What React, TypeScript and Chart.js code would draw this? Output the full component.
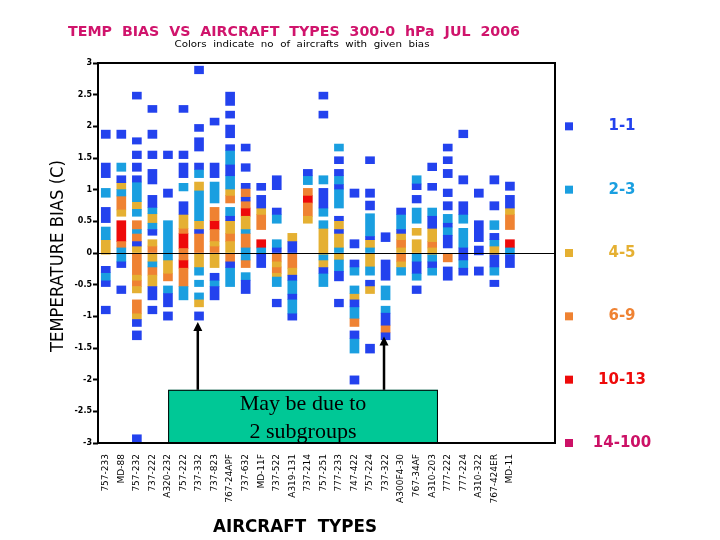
import React, { useEffect, useRef } from 'react';
import { Chart, registerables } from 'chart.js';

Chart.register(...registerables);

// ---------- DATA ----------
const aircraftTypes = [
  '757-233', 'MD-88', '757-232', '737-222', 'A320-232', '757-222', '737-332', '737-823',
  '767-24APF', '737-632', 'MD-11F', '737-522', 'A319-131', '737-214', '757-251', '777-233',
  '747-422', '757-224', '737-322', 'A300F4-30', '767-34AF', 'A310-203', '777-222', '777-224',
  'A310-322', '767-424ER', 'MD-11',
];

const yTickValues = [3, 2.5, 2, 1.5, 1, 0.5, 0, -0.5, -1, -1.5, -2, -2.5, -3];

const binLabels = ['1-1', '2-3', '4-5', '6-9', '10-13', '14-100'];
// y position (in bias units) at which each legend entry is shown
const binLegendAt = [2, 1, 0, -1, -2, -3];

// each entry: [aircraft index (1-based), lower edge of bias run, upper edge of bias run]
type Run = [number, number, number];

const count1to1: Run[] = [
  [1, 1.81, 1.94], [1, 1.19, 1.42], [1, 0.48, 0.72], [1, -0.31, -0.21], [1, -0.53, -0.44], [1, -0.96, -0.84],
  [2, 1.81, 1.94], [2, 1.11, 1.22], [2, -0.23, -0.14], [2, -0.64, -0.52],
  [3, 2.43, 2.54], [3, 1.72, 1.82], [3, 1.49, 1.61], [3, 1.29, 1.42], [3, 1.12, 1.22], [3, 0.11, 0.18], [3, -1.16, -1.05], [3, -1.37, -1.23], [3, -2.98, -2.87],
  [4, 2.22, 2.33], [4, 1.81, 1.94], [4, 1.49, 1.61], [4, 1.09, 1.32], [4, 0.72, 0.91], [4, 0.28, 0.37], [4, -0.74, -0.53], [4, -0.96, -0.84],
  [5, 1.49, 1.61], [5, 0.88, 1.01], [5, -0.85, -0.64], [5, -1.06, -0.93],
  [6, 2.22, 2.33], [6, 1.49, 1.61], [6, 1.19, 1.42], [6, 0.61, 0.81],
  [7, 2.83, 2.95], [7, 1.92, 2.03], [7, 1.61, 1.82], [7, 1.32, 1.42], [7, 0.31, 0.37], [7, -1.06, -0.93],
  [8, 2.02, 2.13], [8, 1.19, 1.42], [8, -0.43, -0.32], [8, -0.74, -0.53],
  [9, 2.33, 2.54], [9, 2.13, 2.24], [9, 1.82, 2.02], [9, 1.62, 1.71], [9, 1.22, 1.39], [9, 0.51, 0.58], [9, -0.23, -0.14],
  [10, 1.61, 1.72], [10, 1.29, 1.41], [10, 1.02, 1.1], [10, 0.82, 0.88], [10, -0.64, -0.43],
  [11, 0.99, 1.1], [11, 0.71, 0.91], [11, -0.23, -0.02],
  [12, 1.0, 1.22], [12, 0.61, 0.71], [12, 0.0, 0.08], [12, -0.85, -0.73],
  [13, 0.0, 0.18], [13, -0.43, -0.35], [13, -0.73, -0.65], [13, -1.06, -0.96],
  [14, 1.22, 1.32],
  [15, 2.43, 2.54], [15, 2.13, 2.24], [15, 0.71, 1.02], [15, -0.32, -0.23],
  [16, 1.41, 1.52], [16, 1.22, 1.32], [16, 1.01, 1.08], [16, 0.51, 0.58], [16, 0.31, 0.37], [16, -0.44, -0.29], [16, -0.85, -0.73],
  [17, 0.88, 1.01], [17, 0.08, 0.21], [17, -0.22, -0.11], [17, -0.85, -0.74], [17, -1.35, -1.23], [17, -2.07, -1.94],
  [18, 1.41, 1.52], [18, 0.88, 1.01], [18, 0.68, 0.82], [18, 0.21, 0.26], [18, -0.52, -0.43], [18, -1.58, -1.44],
  [19, 0.18, 0.32], [19, -0.43, -0.11], [19, -1.14, -0.95], [19, -1.37, -1.26],
  [20, 0.61, 0.71], [20, 0.31, 0.37],
  [21, 1.0, 1.09], [21, 0.79, 0.91], [21, -0.32, -0.14], [21, -0.64, -0.52],
  [22, 1.3, 1.42], [22, 0.99, 1.1], [22, 0.39, 0.58], [22, -0.23, -0.14],
  [23, 1.61, 1.72], [23, 1.41, 1.52], [23, 1.19, 1.32], [23, 0.89, 1.01], [23, 0.68, 0.81], [23, 0.41, 0.47], [23, 0.08, 0.28], [23, -0.43, -0.22],
  [24, 1.82, 1.94], [24, 1.09, 1.22], [24, 0.61, 0.81], [24, -0.11, 0.08], [24, -0.35, -0.24],
  [25, 0.88, 1.01], [25, 0.18, 0.51], [25, -0.03, 0.11], [25, -0.35, -0.22],
  [26, 1.09, 1.22], [26, 0.68, 0.81], [26, 0.21, 0.31], [26, -0.22, -0.03], [26, -0.53, -0.43],
  [27, 0.99, 1.12], [27, 0.71, 0.91], [27, -0.23, -0.03],
];

const count2to3: Run[] = [
  [1, 0.88, 1.02], [1, 0.21, 0.41], [1, -0.44, -0.31],
  [2, 1.29, 1.42], [2, 0.9, 1.0], [2, -0.14, 0.08],
  [3, 0.81, 1.12], [3, 0.58, 0.69], [3, 0.31, 0.37],
  [4, 0.62, 0.72], [4, 0.37, 0.47], [4, -0.22, -0.14],
  [5, -0.11, 0.51], [5, -0.64, -0.52],
  [6, 0.98, 1.1], [6, -0.74, -0.53],
  [7, 1.19, 1.32], [7, 0.51, 0.98], [7, -0.35, -0.23], [7, -0.53, -0.43], [7, -0.73, -0.63],
  [8, 0.79, 1.12], [8, -0.53, -0.43],
  [9, 1.39, 1.62], [9, 1.01, 1.22], [9, 0.58, 0.72], [9, -0.53, -0.23],
  [10, 0.31, 0.37], [10, -0.11, 0.08], [10, -0.43, -0.31],
  [11, -0.02, 0.08],
  [12, 0.47, 0.61], [12, 0.08, 0.21], [12, -0.53, -0.38],
  [13, -0.65, -0.43], [13, -0.96, -0.73],
  [14, 1.08, 1.22],
  [15, 1.09, 1.22], [15, 0.58, 0.71], [15, 0.39, 0.51], [15, -0.11, -0.03], [15, -0.53, -0.32],
  [16, 1.61, 1.72], [16, 1.08, 1.22], [16, 0.71, 1.01], [16, 0.0, 0.08], [16, -0.29, -0.11],
  [17, -0.35, -0.22], [17, -0.64, -0.52], [17, -1.03, -0.85], [17, -1.58, -1.35],
  [18, 0.26, 0.62], [18, 0.0, 0.08], [18, -0.35, -0.22],
  [19, -0.74, -0.52], [19, -0.95, -0.84],
  [20, 0.37, 0.61], [20, -0.35, -0.23],
  [21, 1.09, 1.22], [21, 0.47, 0.71], [21, -0.14, 0.0], [21, -0.43, -0.32],
  [22, 0.58, 0.71], [22, -0.14, -0.03], [22, -0.35, -0.23],
  [23, 0.47, 0.61], [23, 0.28, 0.41],
  [24, 0.47, 0.61], [24, 0.08, 0.39], [24, -0.24, -0.11],
  [26, 0.37, 0.51], [26, 0.11, 0.21], [26, -0.35, -0.22],
  [27, -0.03, 0.08],
];

const count4to5: Run[] = [
  [1, -0.02, 0.21],
  [2, 1.0, 1.11], [2, 0.58, 0.68],
  [3, 0.69, 0.81], [3, 0.0, 0.11], [3, -0.43, -0.35], [3, -0.63, -0.53], [3, -1.05, -0.96],
  [4, 0.47, 0.62], [4, 0.11, 0.21], [4, -0.14, 0.0], [4, -0.53, -0.35],
  [5, -0.32, -0.11],
  [6, 0.39, 0.61],
  [7, 0.98, 1.12], [7, 0.37, 0.51], [7, -0.23, 0.0], [7, -0.85, -0.73],
  [8, 0.11, 0.18], [8, -0.23, 0.0],
  [9, 0.91, 1.01], [9, 0.31, 0.51], [9, 0.0, 0.18],
  [10, 0.37, 0.58],
  [11, 0.61, 0.71],
  [12, -0.22, -0.14], [12, -0.38, -0.32],
  [13, 0.18, 0.31], [13, -0.35, -0.24],
  [14, 0.47, 0.58],
  [15, -0.03, 0.39], [15, -0.23, -0.11],
  [16, 0.37, 0.51], [16, 0.08, 0.31], [16, -0.11, 0.0],
  [17, -0.74, -0.64],
  [18, 0.08, 0.21], [18, -0.22, 0.0], [18, -0.64, -0.52],
  [20, 0.21, 0.31], [20, 0.0, 0.08], [20, -0.23, -0.14],
  [21, 0.28, 0.39], [21, 0.0, 0.21],
  [22, 0.18, 0.39], [22, -0.03, 0.08],
  [26, -0.03, 0.11],
  [27, 0.61, 0.71],
];

const count6to9: Run[] = [
  [2, 0.68, 0.9], [2, 0.08, 0.18],
  [3, 0.37, 0.51], [3, 0.18, 0.31], [3, -0.35, 0.0], [3, -0.53, -0.43], [3, -0.96, -0.74],
  [4, 0.0, 0.11], [4, -0.35, -0.22],
  [5, -0.44, -0.32],
  [6, 0.31, 0.39], [6, -0.11, 0.07], [6, -0.53, -0.24],
  [7, 0.0, 0.31],
  [8, 0.51, 0.72], [8, 0.18, 0.37], [8, 0.0, 0.11],
  [9, 0.79, 0.91], [9, 0.18, 0.31], [9, -0.14, 0.0],
  [10, 0.88, 1.02], [10, 0.71, 0.82], [10, 0.08, 0.31], [10, -0.23, -0.11],
  [11, 0.37, 0.61],
  [12, -0.14, 0.0], [12, -0.32, -0.22],
  [13, -0.24, 0.0],
  [14, 0.91, 1.02], [14, 0.58, 0.79],
  [17, -1.16, -1.03],
  [19, -1.26, -1.14],
  [20, 0.08, 0.21], [20, -0.14, 0.0],
  [22, 0.08, 0.18],
  [23, -0.14, 0.0],
  [27, 0.37, 0.61],
];

const count10to13: Run[] = [
  [2, 0.18, 0.51], [6, 0.07, 0.31], [6, -0.24, -0.11], [8, 0.37, 0.51],
  [10, 0.58, 0.71], [11, 0.08, 0.21], [14, 0.79, 0.91], [27, 0.08, 0.21],
];

const count14to100: Run[] = [];

const binSeries = [count1to1, count2to3, count4to5, count6to9, count10to13, count14to100];
const binColors = ['#2342ee', '#1a9fe0', '#e5b032', '#ef8232', '#ee0a0a', '#cc1166'];

const titleText = 'TEMP  BIAS  VS  AIRCRAFT  TYPES  300-0  hPa  JUL  2006';
const subtitleText = 'Colors  indicate  no  of  aircrafts  with  given  bias';
const yTitleText = 'TEMPERATURE BIAS (C)';
const xTitleText = 'AIRCRAFT  TYPES';
const noteLines = ['May be due to', '2 subgroups'];

// ---------- DRAWING HELPERS ----------
function drawStretched(
  ctx: CanvasRenderingContext2D, text: string, cx: number, cy: number,
  font: string, targetW: number, color: string, rot = 0,
) {
  ctx.save();
  ctx.font = font;
  const w = ctx.measureText(text).width || 1;
  ctx.translate(cx, cy);
  if (rot) ctx.rotate(rot);
  ctx.scale(targetW / w, 1);
  ctx.fillStyle = color;
  ctx.textAlign = 'center';
  ctx.textBaseline = 'middle';
  ctx.fillText(text, 0, 0);
  ctx.restore();
}

function arrowUp(ctx: CanvasRenderingContext2D, x: number, fromY: number, tipY: number) {
  const head = 9;
  ctx.beginPath();
  ctx.moveTo(x, fromY);
  ctx.lineTo(x, tipY + head - 1);
  ctx.lineWidth = 2.5;
  ctx.strokeStyle = '#000';
  ctx.stroke();
  ctx.beginPath();
  ctx.moveTo(x, tipY);
  ctx.lineTo(x - 4.5, tipY + head);
  ctx.lineTo(x + 4.5, tipY + head);
  ctx.closePath();
  ctx.fillStyle = '#000';
  ctx.fill();
}

const decorPlugin = {
  id: 'decor',
  afterDatasetsDraw(chart: any) {
    const { ctx, chartArea: a, scales } = chart;
    const xs = scales.x;
    const ys = scales.y;
    ctx.save();
    // zero line
    const y0 = Math.round(ys.getPixelForValue(0)) + 0.5;
    ctx.beginPath();
    ctx.moveTo(a.left, y0);
    ctx.lineTo(a.right, y0);
    ctx.lineWidth = 1;
    ctx.strokeStyle = '#000';
    ctx.stroke();

    // annotation box
    const bl = xs.getPixelForValue(5.01);
    const br = xs.getPixelForValue(22.37);
    const bt = ys.getPixelForValue(-2.16);
    const bb = a.bottom;
    ctx.fillStyle = '#00c896';
    ctx.fillRect(bl, bt, br - bl, bb - bt);
    ctx.lineWidth = 1;
    ctx.strokeStyle = '#000';
    ctx.strokeRect(bl + 0.5, bt + 0.5, br - bl - 1, bb - bt);
    ctx.fillStyle = '#000';
    ctx.font = '22px "Liberation Serif"';
    ctx.textAlign = 'center';
    ctx.textBaseline = 'middle';
    const cx = (bl + br) / 2;
    ctx.fillText(noteLines[0], cx, bt + 14);
    ctx.fillText(noteLines[1], cx, bt + 42);

    // arrows
    arrowUp(ctx, xs.getPixelForValue(6.92), bt, ys.getPixelForValue(-1.09));
    arrowUp(ctx, xs.getPixelForValue(18.9), bt, ys.getPixelForValue(-1.32));

    // frame
    ctx.lineWidth = 2;
    ctx.strokeStyle = '#000';
    ctx.strokeRect(a.left, a.top, a.right - a.left, a.bottom - a.top);
    ctx.restore();
  },
  afterDraw(chart: any) {
    const { ctx, scales } = chart;
    const ys = scales.y;
    drawStretched(ctx, titleText, 294, 32, 'bold 14px "DejaVu Sans"', 452, '#d0146c');
    drawStretched(ctx, subtitleText, 302, 45, '8px "DejaVu Sans"', 255, '#000');
    drawStretched(ctx, yTitleText, 58, 256, '18px "DejaVu Sans"', 192, '#000', -Math.PI / 2);
    drawStretched(ctx, xTitleText, 295, 527, 'bold 18px "DejaVu Sans"', 164, '#000');

    // legend
    ctx.save();
    binLabels.forEach((lab, i) => {
      const py = ys.getPixelForValue(binLegendAt[i]);
      ctx.fillStyle = binColors[i];
      ctx.fillRect(565, py - 4, 8, 8);
      ctx.font = 'bold 15px "DejaVu Sans"';
      ctx.textAlign = 'center';
      ctx.textBaseline = 'middle';
      ctx.fillText(lab, 622, py);
    });
    ctx.restore();
  },
};

export default function App() {
  const canvasRef = useRef<HTMLCanvasElement | null>(null);

  useEffect(() => {
    const canvas = canvasRef.current;
    if (!canvas) return;
    const chart = new Chart(canvas, {
      type: 'bar',
      data: {
        datasets: binSeries.map((runs, i) => ({
          label: binLabels[i],
          data: runs.map(([c, lo, hi]) => ({ x: c, y: [lo, hi] })),
          backgroundColor: binColors[i],
          borderWidth: 0,
          barThickness: 9,
          grouped: false,
        })) as any,
      },
      options: {
        animation: false,
        responsive: false,
        devicePixelRatio: 1,
        layout: { padding: { top: 63, right: 165, bottom: 0, left: 0 } },
        plugins: {
          legend: { display: false },
          tooltip: { enabled: false },
          title: { display: false },
        },
        scales: {
          x: {
            type: 'linear',
            offset: false,
            min: 0.5,
            max: 29.9,
            afterBuildTicks: (s: any) => {
              s.ticks = aircraftTypes.map((_, i) => ({ value: i + 1 }));
            },
            afterFit: (s: any) => { s.height = 97; },
            grid: { display: false, drawTicks: false },
            border: { display: false },
            ticks: {
              autoSkip: false,
              minRotation: 90,
              maxRotation: 90,
              padding: 11,
              color: '#000',
              font: { family: 'DejaVu Sans', size: 9 },
              callback: (v: any) => aircraftTypes[Math.round(Number(v)) - 1] ?? '',
            },
          },
          y: {
            type: 'linear',
            min: -3,
            max: 3,
            afterBuildTicks: (s: any) => {
              s.ticks = yTickValues.map((v) => ({ value: v }));
            },
            afterFit: (s: any) => { s.width = 98; },
            grid: { drawOnChartArea: false, drawTicks: true, tickLength: 5, tickColor: '#000', tickWidth: 2 },
            border: { display: false },
            ticks: {
              padding: 1,
              color: '#000',
              font: { family: 'DejaVu Sans', size: 8, weight: 'bold' },
              callback: (v: any) => String(v),
            },
          },
        },
      } as any,
      plugins: [decorPlugin],
    });
    return () => chart.destroy();
  }, []);

  return (
    <div style={{ position: 'absolute', left: 0, top: 0, width: 720, height: 540, background: '#fff' }}>
      <canvas ref={canvasRef} width={720} height={540} style={{ display: 'block' }} />
    </div>
  );
}
